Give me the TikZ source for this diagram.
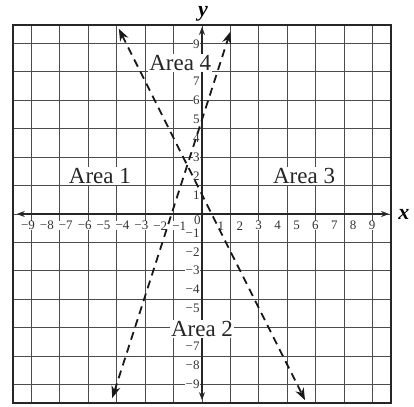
\documentclass[tikz,border=0pt]{standalone}
\usepackage{fontspec}
\setmainfont{Liberation Serif}
\usetikzlibrary{arrows.meta}
\begin{document}
\begin{tikzpicture}[x=18.9pt,y=18.9pt,
  gridline/.style={draw=black!70, line width=0.9pt},
  framebox/.style={draw=black!85, line width=1.4pt},
  ticklabel/.style={fill=white, inner sep=0.4pt, font=\fontsize{13}{13}\selectfont, text=black!80},
  arealabel/.style={fill=white, inner sep=1.2pt, font=\fontsize{23}{23}\selectfont, text=black!85},
  axislabel/.style={inner sep=0pt, font=\fontsize{22}{22}\selectfont\bfseries\itshape},
  axisline/.style={draw=black!85, line width=1.6pt, {Stealth[length=8pt,width=6pt]}-{Stealth[length=8pt,width=6pt]}},
  dashline/.style={draw=black!90, line width=1.8pt, dash pattern=on 8pt off 5.5pt, {Stealth[length=12pt,width=9pt]}-{Stealth[length=12pt,width=9pt]}}]
\useasboundingbox (-202pt,-192pt) rectangle (212pt,214pt);
\draw[gridline] (-10,-10) grid (10,10);
\draw[framebox] (-10,-10) rectangle (10,10);
% tick labels (the ones hidden under area labels are left out)
\foreach \i in {-9,...,-1} {
  \node[ticklabel, anchor=east] (xl\i) at (\i+0.19,-0.62) {−\the\numexpr-\i\relax};
}
\foreach \i in {-9,-8,-7,-5,-4,-3,-2,-1} {
  \node[ticklabel, anchor=east] (yl\i) at (-0.1,\i) {−\the\numexpr-\i\relax};
}
\foreach \i in {1,...,9} {
  \node[ticklabel] (xl\i) at (\i,-0.62) {\i};
}
\foreach \i in {1,2,3,4,5,6,7,9} {
  \node[ticklabel, anchor=east] (yl\i) at (-0.1,\i) {\i};
}
\node[ticklabel] (zero) at (-0.24,-0.33) {0};
% axes
\coordinate (xw) at (-9.8,0);
\coordinate (xe) at (9.9,0);
\coordinate (ys) at (0,-9.85);
\coordinate (yn) at (0,9.9);
\draw[axisline] (xw) -- (xe);
\draw[axisline] (ys) -- (yn);
\node[axislabel] (xlab) at (10.68,-0.05) {x};
\node[axislabel] (ylab) at (0.05,10.6) {y};
% area labels
\node[arealabel] (a1) at (-5.4,2) {Area 1};
\node[arealabel] (a2) at (0,-6.1) {Area 2};
\node[arealabel] (a3) at (5.4,2) {Area 3};
\node[arealabel] (a4) at (-1.15,8) {Area 4};
% dashed lines
\coordinate (pa) at (-4.75,-9.74);
\coordinate (pb) at (1.5,9.65);
\coordinate (qa) at (-4.4,9.8);
\coordinate (qb) at (5.45,-9.85);
\draw[dashline] (pa) -- (pb);
\draw[dashline] (qa) -- (qb);
\end{tikzpicture}
\end{document}
